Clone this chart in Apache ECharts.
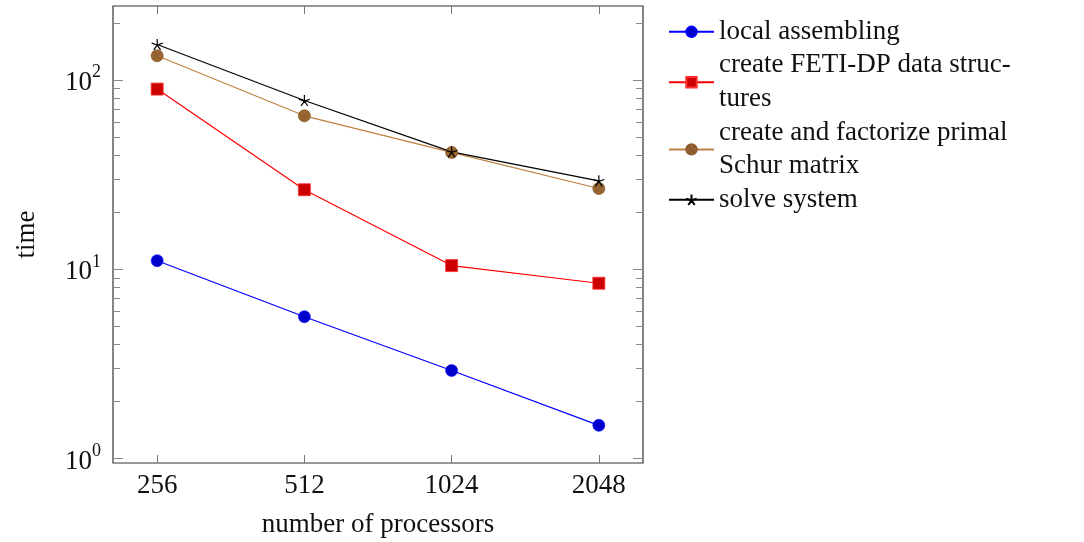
<!DOCTYPE html>
<html>
<head>
<meta charset="utf-8">
<script src="https://cdn.jsdelivr.net/npm/echarts@6/dist/echarts.min.js"></script>
<style>html,body{margin:0;padding:0;background:#fff}#c{width:1084px;height:542px}</style>
</head>
<body>
<div id="c"></div>
<script>
const processors = [256, 512, 1024, 2048];
const localAssembling = [11.1, 5.62, 2.92, 1.50];
const fetiDP = [89.4, 26.3, 10.46, 8.44];
const primalSchur = [134, 64.6, 41.4, 26.7];
const solveSystem = [153.8, 77.8, 41.7, 29.3];
const xTicks = [256, 512, 1024, 2048];
const yMajorTicks = [1, 10, 100];
const yMinorTicks = [2,3,4,5,6,7,8,9,20,30,40,50,60,70,80,90,200];

const names = ['local assembling', 'create FETI-DP data structures', 'create and factorize primal Schur matrix', 'solve system'];
const legendText = {
  'local assembling': 'local assembling',
  'create FETI-DP data structures': 'create FETI-DP data struc-\ntures',
  'create and factorize primal Schur matrix': 'create and factorize primal\nSchur matrix',
  'solve system': 'solve system'
};
const FONT = '"Liberation Serif", "DejaVu Serif", serif';
const pair = (ys) => processors.map((x, i) => [x, ys[i]]);

const xMin = Math.pow(2, 7.7), xMax = Math.pow(2, 11.3);
const yMin = Math.pow(10, -0.0227), yMax = Math.pow(10, 2.39);

const starPath = 'path://M0,0L0,-1M0,0L0.951,-0.309M0,0L0.588,0.809M0,0L-0.588,0.809M0,0L-0.951,-0.309';
const otimesPath = 'path://M1,0A1,1,0,1,1,-1,0A1,1,0,1,1,1,0ZM-0.707,-0.707L0.707,0.707M-0.707,0.707L0.707,-0.707';

function xAxisDef(pos, showLabel) {
  return {
    type: 'log', logBase: 2, position: pos, min: xMin, max: xMax,
    axisLine: {show: false}, splitLine: {show: false},
    axisTick: {show: true, inside: true, length: 8, customValues: xTicks, lineStyle: {color: '#777', width: 1}},
    axisLabel: {show: showLabel, customValues: xTicks, formatter: v => String(Math.round(v)), fontFamily: FONT, fontSize: 27, color: '#111', margin: 9},
    name: showLabel ? 'number of processors' : '', nameLocation: 'middle', nameGap: 48,
    nameTextStyle: {fontFamily: FONT, fontSize: 27, color: '#111'}
  };
}
function yAxisDef(pos, ticks, len, showLabel, showName) {
  return {
    type: 'log', logBase: 10, position: pos, min: yMin, max: yMax,
    axisLine: {show: false}, splitLine: {show: false}, minorTick: {show: false},
    axisTick: {show: true, inside: true, length: len, customValues: ticks, lineStyle: {color: '#888', width: 1}},
    axisLabel: {show: showLabel, customValues: ticks, margin: 12,
      formatter: v => '{b|10}{s|' + Math.round(Math.log10(v)) + '}',
      rich: {b: {fontFamily: FONT, fontSize: 27, color: '#111', verticalAlign: 'bottom', padding:[6,0,0,0]}, s: {fontFamily: FONT, fontSize: 18, color: '#111', verticalAlign: 'top', padding:[0,0,10,0]}}},
    name: showName ? 'time' : '', nameLocation: 'middle', nameGap: 73, nameRotate: 90,
    nameTextStyle: {fontFamily: FONT, fontSize: 27, color: '#111'}
  };
}

const chart = echarts.init(document.getElementById('c'), null, {renderer: 'canvas'});
chart.setOption({
  backgroundColor: '#fff',
  animation: false,
  grid: {left: 113, top: 6, right: 441, bottom: 79, show: true, borderColor: '#333', borderWidth: 1.2, backgroundColor: 'transparent', containLabel: false, outerBoundsMode: 'none'},
  xAxis: [xAxisDef('bottom', true), xAxisDef('top', false)],
  yAxis: [
    yAxisDef('left', yMajorTicks, 10, true, true),
    yAxisDef('left', yMinorTicks, 7, false, false),
    yAxisDef('right', yMajorTicks, 10, false, false),
    yAxisDef('right', yMinorTicks, 7, false, false)
  ],
  legend: {
    orient: 'vertical', left: 663, top: 10, itemGap: 0, itemWidth: 45, itemHeight: 13,
    data: names,
    formatter: n => legendText[n],
    textStyle: {fontFamily: FONT, fontSize: 27, color: '#111', lineHeight: 33.6}
  },
  series: [
    {name: names[0], type: 'line', data: pair(localAssembling), symbol: 'circle', symbolSize: 12,
      lineStyle: {color: '#0000ff', width: 1.2}, itemStyle: {color: '#0000cc', borderColor: '#0000ff', borderWidth: 0.6}},
    {name: names[1], type: 'line', data: pair(fetiDP), symbol: 'rect', symbolSize: 12,
      lineStyle: {color: '#ff0000', width: 1.2}, itemStyle: {color: '#cc0000', borderColor: '#ff3030', borderWidth: 0.8}},
    {name: names[2], type: 'line', data: pair(primalSchur), symbol: otimesPath, symbolSize: 12, symbolKeepAspect: true,
      lineStyle: {color: '#bf8040', width: 1.2}, itemStyle: {color: '#996633', borderColor: '#8a5a2b', borderWidth: 0.8}},
    {name: names[3], type: 'line', data: pair(solveSystem), symbol: starPath, symbolSize: 11,
      lineStyle: {color: '#000000', width: 1.2}, itemStyle: {color: 'none', borderColor: '#000', borderWidth: 1.2}}
  ]
});
</script>
</body>
</html>
